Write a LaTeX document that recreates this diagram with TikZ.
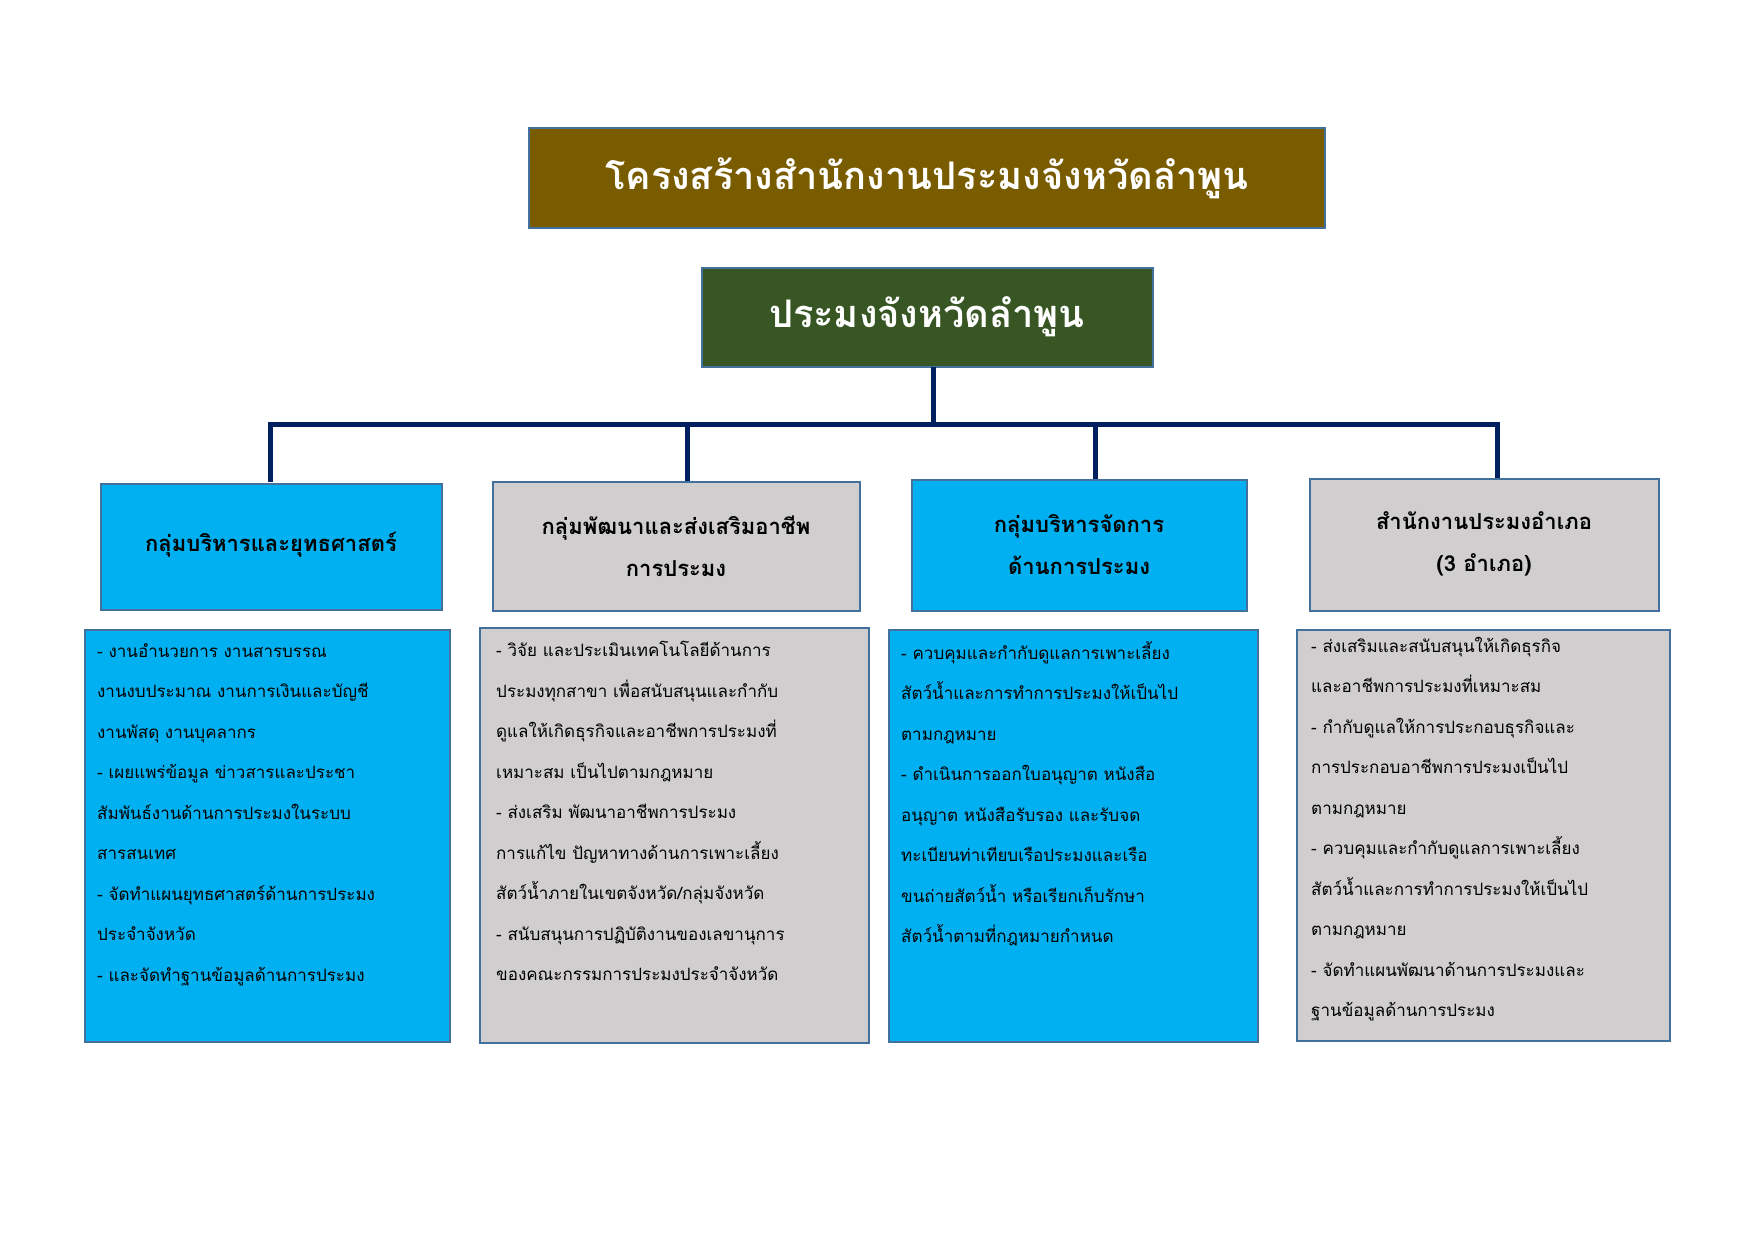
\documentclass[tikz,border=0pt]{standalone}
\usepackage{fontspec}
\setmainfont[Script=Thai]{Loma}
\definecolor{olive}{HTML}{7A5C00}
\definecolor{dgreen}{HTML}{375623}
\definecolor{cyanb}{HTML}{00B0F0}
\definecolor{grayb}{HTML}{D0CECE}
\definecolor{edge}{HTML}{41719C}
\definecolor{navy}{HTML}{002060}
\begin{document}
\begin{tikzpicture}[x=1pt,y=-1pt,
  box/.style={draw=edge,line width=1.5pt},
  conn/.style={navy,line width=5pt},
  head/.style={font=\fontsize{22}{42}\selectfont\bfseries,align=center,text=black},
  body/.style={font=\fontsize{17}{40.5}\selectfont,align=left,anchor=north west,inner sep=0pt,text=black}]
\useasboundingbox (0,0) rectangle (1755,1241);
\fill[white] (0,0) rectangle (1755,1241);
% title
\draw[box,fill=olive] (529,128) rectangle (1325,228);
\node[text=white,font=\fontsize{38}{40}\selectfont\bfseries] (t) at (927,178) {โครงสร้างสำนักงานประมงจังหวัดลำพูน};
\draw[box,fill=dgreen] (702,268) rectangle (1153,367);
\node[text=white,font=\fontsize{38}{40}\selectfont\bfseries] (g) at (927,317) {ประมงจังหวัดลำพูน};
% connectors
\coordinate (j) at (933,424);
\draw[conn] (933,367) -- (j);
\draw[conn,line cap=rect] (270,424) -- (1497,424);
\foreach \x in {270,687,1095,1497}{\draw[conn] (\x,424) -- (\x,482);}
% level 2
\draw[box,fill=cyanb] (101,484) rectangle (442,610);
\node[head] (a) at (271,545) {กลุ่มบริหารและยุทธศาสตร์};
\draw[box,fill=grayb] (493,482) rectangle (860,611);
\node[head] (b) at (676,546) {กลุ่มพัฒนาและส่งเสริมอาชีพ\\การประมง};
\draw[box,fill=cyanb] (912,480) rectangle (1247,611);
\node[head] (c) at (1079,545) {กลุ่มบริหารจัดการ\\ด้านการประมง};
\draw[box,fill=grayb] (1310,479) rectangle (1659,611);
\node[head] (d) at (1484,544) {สำนักงานประมงอำเภอ\\(3 อำเภอ)};
% details
\draw[box,fill=cyanb] (85,630) rectangle (450,1042);
\node[body] (a1) at (97,643) {- งานอำนวยการ งานสารบรรณ\\งานงบประมาณ งานการเงินและบัญชี\\งานพัสดุ งานบุคลากร\\- เผยแพร่ข้อมูล ข่าวสารและประชา\\สัมพันธ์งานด้านการประมงในระบบ\\สารสนเทศ\\- จัดทำแผนยุทธศาสตร์ด้านการประมง\\ประจำจังหวัด\\- และจัดทำฐานข้อมูลด้านการประมง};
\draw[box,fill=grayb] (480,628) rectangle (869,1043);
\node[body] (b1) at (496,641) {- วิจัย และประเมินเทคโนโลยีด้านการ\\ประมงทุกสาขา เพื่อสนับสนุนและกำกับ\\ดูแลให้เกิดธุรกิจและอาชีพการประมงที่\\เหมาะสม เป็นไปตามกฎหมาย\\- ส่งเสริม พัฒนาอาชีพการประมง\\การแก้ไข ปัญหาทางด้านการเพาะเลี้ยง\\สัตว์น้ำภายในเขตจังหวัด/กลุ่มจังหวัด\\- สนับสนุนการปฏิบัติงานของเลขานุการ\\ของคณะกรรมการประมงประจำจังหวัด};
\draw[box,fill=cyanb] (889,630) rectangle (1258,1042);
\node[body] (c1) at (901,641) {- ควบคุมและกำกับดูแลการเพาะเลี้ยง\\สัตว์น้ำและการทำการประมงให้เป็นไป\\ตามกฎหมาย\\- ดำเนินการออกใบอนุญาต หนังสือ\\อนุญาต หนังสือรับรอง และรับจด\\ทะเบียนท่าเทียบเรือประมงและเรือ\\ขนถ่ายสัตว์น้ำ หรือเรียกเก็บรักษา\\สัตว์น้ำตามที่กฎหมายกำหนด};
\draw[box,fill=grayb] (1297,630) rectangle (1670,1041);
\node[body] (d1) at (1311,637) {- ส่งเสริมและสนับสนุนให้เกิดธุรกิจ\\และอาชีพการประมงที่เหมาะสม\\- กำกับดูแลให้การประกอบธุรกิจและ\\การประกอบอาชีพการประมงเป็นไป\\ตามกฎหมาย\\- ควบคุมและกำกับดูแลการเพาะเลี้ยง\\สัตว์น้ำและการทำการประมงให้เป็นไป\\ตามกฎหมาย\\- จัดทำแผนพัฒนาด้านการประมงและ\\ฐานข้อมูลด้านการประมง};
\end{tikzpicture}
\end{document}
